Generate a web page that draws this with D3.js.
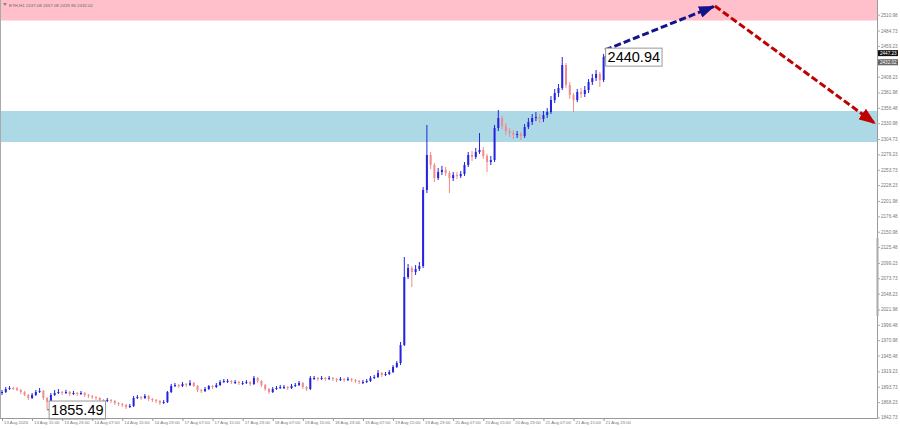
<!DOCTYPE html>
<html>
<head>
<meta charset="utf-8">
<script src="https://cdn.jsdelivr.net/npm/d3@7"></script>
<style>
  body { margin: 0; background: #fff; }
  svg { display: block; font-family: "Liberation Sans", Arial, sans-serif; }
</style>
</head>
<body>
<svg id="chart" width="900" height="429"></svg>
<script>
// ETH H1 bars
const symbolInfo = "ETH,H1  2437.08 2457.08 2419.96 2432.02";

const timeLabels = ["13 Aug 2026", "13 Aug 15:00", "13 Aug 23:00", "14 Aug 07:00", "14 Aug 15:00", "14 Aug 23:00",
    "17 Aug 07:00", "17 Aug 15:00", "17 Aug 23:00", "18 Aug 07:00", "18 Aug 15:00", "18 Aug 23:00",
    "19 Aug 07:00", "19 Aug 15:00", "19 Aug 23:00", "20 Aug 07:00", "20 Aug 15:00", "20 Aug 23:00",
    "21 Aug 07:00", "21 Aug 15:00", "21 Aug 23:00"];
const labelBars = [0, 8, 16, 24, 32, 40, 48, 56, 64, 72, 80, 88, 96, 104, 112, 120, 128, 136, 144, 152, 160];

const priceTicks = [2510.98, 2484.73, 2459.23, 2433.73, 2408.23, 2381.98, 2356.48, 2330.98, 2304.73, 2279.23,
    2253.73, 2228.23, 2201.98, 2176.48, 2150.98, 2125.48, 2099.23, 2073.73, 2048.23, 2021.98, 1996.48,
    1970.98, 1945.48, 1919.23, 1893.73, 1868.23, 1842.73];

const firstOpen = 1883.4;
const closes = [
    1885.0, 1890.0, 1891.7, 1891.2, 1888.4, 1885.0, 1880.1, 1875.1, 1880.1, 1885.0,
    1886.7, 1875.1, 1868.4, 1880.1, 1883.4, 1885.0, 1883.4, 1885.0, 1881.7, 1883.4,
    1881.7, 1883.4, 1880.1, 1878.4, 1876.7, 1875.1, 1871.8, 1870.1, 1871.8, 1870.1,
    1866.8, 1865.1, 1863.5, 1860.1, 1861.8, 1875.1, 1876.7, 1875.1, 1878.4, 1873.4,
    1871.8, 1870.1, 1866.8, 1868.4, 1885.0, 1895.0, 1896.6, 1895.0, 1898.3, 1896.6,
    1900.0, 1895.0, 1888.4, 1886.7, 1890.0, 1895.0, 1893.3, 1896.6, 1901.6, 1903.3,
    1903.3, 1901.6, 1901.6, 1900.0, 1900.0, 1901.6, 1898.3, 1908.3, 1903.3, 1896.6,
    1890.0, 1885.0, 1890.0, 1891.7, 1893.3, 1893.3, 1891.7, 1895.0, 1896.6, 1900.0,
    1893.3, 1890.0, 1908.3, 1908.3, 1906.6, 1908.3, 1906.6, 1908.3, 1906.6, 1904.9,
    1906.6, 1904.9, 1906.6, 1904.9, 1903.3, 1901.6, 1901.6, 1903.3, 1908.3, 1909.9,
    1916.6, 1913.2, 1914.9, 1918.2, 1926.5, 1933.1, 1963.0, 2075.8, 2090.7, 2084.1,
    2089.1, 2094.0, 2220.1, 2278.2, 2261.6, 2240.0, 2250.0, 2253.3, 2248.3, 2240.0,
    2245.0, 2243.3, 2246.7, 2261.6, 2278.2, 2274.9, 2283.2, 2286.5, 2276.5, 2266.6,
    2269.9, 2323.0, 2339.6, 2326.3, 2318.0, 2314.7, 2311.4, 2313.0, 2309.7, 2324.6,
    2332.9, 2339.6, 2341.2, 2337.9, 2344.5, 2349.5, 2369.4, 2381.0, 2389.3, 2427.5,
    2394.3, 2377.7, 2369.4, 2382.7, 2379.4, 2386.0, 2399.3, 2405.9, 2412.6, 2402.6,
    2440.94
];
const highs = [
    1888.4, 1893.3, 1895.0, 1894.0, 1893.3, 1890.0, 1886.7, 1881.7, 1883.4, 1888.4,
    1891.7, 1888.4, 1876.7, 1883.4, 1888.4, 1890.0, 1886.7, 1888.4, 1886.7, 1886.7,
    1885.0, 1886.7, 1885.0, 1881.7, 1880.1, 1878.4, 1876.7, 1873.4, 1875.1, 1873.4,
    1871.8, 1868.4, 1866.8, 1865.1, 1865.1, 1878.4, 1880.1, 1878.4, 1881.7, 1880.1,
    1875.1, 1873.4, 1871.8, 1871.8, 1886.7, 1898.3, 1900.0, 1898.3, 1901.6, 1900.0,
    1904.9, 1901.6, 1896.6, 1890.0, 1893.3, 1896.6, 1896.6, 1900.0, 1904.9, 1906.6,
    1906.6, 1904.9, 1904.9, 1903.3, 1903.3, 1904.9, 1903.3, 1911.6, 1909.9, 1904.9,
    1898.3, 1891.7, 1893.3, 1895.0, 1896.6, 1896.6, 1895.0, 1898.3, 1900.0, 1903.3,
    1901.6, 1895.0, 1911.6, 1911.6, 1909.9, 1911.6, 1909.9, 1911.6, 1909.9, 1908.3,
    1909.9, 1908.3, 1909.9, 1908.3, 1906.6, 1904.9, 1904.9, 1906.6, 1911.6, 1913.2,
    1921.5, 1918.2, 1918.2, 1921.5, 1929.8, 1936.5, 1968.0, 2109.0, 2097.4, 2094.0,
    2095.7, 2100.7, 2225.1, 2328.0, 2283.2, 2264.9, 2256.6, 2260.0, 2258.3, 2251.6,
    2250.0, 2250.0, 2251.6, 2266.6, 2283.2, 2284.9, 2289.9, 2314.7, 2291.5, 2279.9,
    2276.5, 2328.0, 2352.8, 2343.0, 2331.3, 2323.0, 2319.7, 2318.0, 2316.4, 2329.6,
    2339.6, 2346.2, 2349.5, 2346.2, 2351.2, 2356.2, 2376.1, 2387.7, 2396.0, 2440.8,
    2430.9, 2399.3, 2381.0, 2387.7, 2389.3, 2392.7, 2404.2, 2412.6, 2419.2, 2416.0,
    2445.9
];
const lows = [
    1880.1, 1883.4, 1888.4, 1888.4, 1886.7, 1881.7, 1878.4, 1871.8, 1873.4, 1878.4,
    1883.4, 1871.8, 1855.5, 1866.8, 1878.4, 1881.7, 1880.1, 1881.7, 1878.4, 1880.1,
    1878.4, 1880.1, 1876.7, 1875.1, 1873.4, 1871.8, 1868.4, 1866.8, 1868.4, 1866.8,
    1863.5, 1861.8, 1860.1, 1856.8, 1858.4, 1860.1, 1873.4, 1871.8, 1873.4, 1870.1,
    1868.4, 1866.8, 1863.5, 1865.1, 1866.8, 1883.4, 1893.3, 1891.7, 1893.3, 1893.3,
    1895.0, 1893.3, 1885.0, 1883.4, 1885.0, 1888.4, 1890.0, 1891.7, 1895.0, 1900.0,
    1900.0, 1898.3, 1898.3, 1896.6, 1896.6, 1898.3, 1895.0, 1896.6, 1900.0, 1893.3,
    1886.7, 1881.7, 1883.4, 1888.4, 1890.0, 1890.0, 1888.4, 1890.0, 1893.3, 1895.0,
    1890.0, 1886.7, 1888.4, 1904.9, 1903.3, 1904.9, 1903.3, 1904.9, 1903.3, 1901.6,
    1903.3, 1901.6, 1903.3, 1901.6, 1900.0, 1898.3, 1898.3, 1900.0, 1901.6, 1906.6,
    1908.3, 1909.9, 1911.6, 1913.2, 1916.6, 1924.8, 1929.8, 1961.3, 2072.5, 2059.2,
    2079.1, 2085.8, 2090.7, 2215.1, 2255.0, 2233.4, 2236.7, 2245.0, 2243.3, 2215.1,
    2235.0, 2238.4, 2240.0, 2243.3, 2258.3, 2268.2, 2271.6, 2279.9, 2271.6, 2250.0,
    2261.6, 2266.6, 2318.0, 2321.3, 2311.4, 2308.1, 2304.8, 2306.4, 2303.1, 2306.4,
    2321.3, 2328.0, 2334.6, 2331.3, 2333.0, 2339.6, 2346.2, 2364.5, 2374.4, 2386.0,
    2389.3, 2371.1, 2349.5, 2366.1, 2372.8, 2374.4, 2381.0, 2394.3, 2401.0, 2391.0,
    2399.3
];

// zones and forecast path, in [bar, price]
const resistanceZone = [2501.3, 2560];
const supportZone = [2299.8, 2351.2];
const forecastUp = [[160.4, 2452.4], [189.6, 2525.4]];
const forecastDown = [[189.6, 2525.4], [232.4, 2329.6]];
const highLabel = { bar: 160, price: 2440.94 };
const lowLabel = { bar: 12, price: 1855.49 };
const quoteMarks = [2447.23, 2432.02];
const axisMark = [2011.1, 2140.5];

const plotRight = 877, plotBottom = 418;

const svg = d3.select("#chart");

const x = d3.scaleLinear().domain([0, 160]).range([2, 603.6]);
const y = d3.scaleLinear().domain([1842.73, 2510.98]).range([417.5, 14.7]);

const bars = closes.map((c, i) => ({
    i: i,
    o: i === 0 ? firstOpen : closes[i - 1],
    h: highs[i],
    l: lows[i],
    c: c
}));

const defs = svg.append("defs");
defs.append("clipPath")
    .attr("id", "plot-clip")
    .append("rect")
    .attr("x", 0).attr("y", 0)
    .attr("width", plotRight).attr("height", plotBottom);

const plot = svg.append("g").attr("clip-path", "url(#plot-clip)");

// zones
plot.append("rect")
    .attr("x", 0).attr("width", plotRight)
    .attr("y", y(resistanceZone[1]))
    .attr("height", y(resistanceZone[0]) - y(resistanceZone[1]))
    .attr("fill", "#ffc0cb");

plot.append("rect")
    .attr("x", 0).attr("width", plotRight)
    .attr("y", y(supportZone[1]))
    .attr("height", y(supportZone[0]) - y(supportZone[1]))
    .attr("fill", "#add8e6");

// candles
const upColor = "#2323e0", downColor = "#f28b8b";

plot.selectAll(".wick")
    .data(bars)
    .enter()
    .append("line")
    .attr("class", "wick")
    .attr("x1", d => x(d.i)).attr("x2", d => x(d.i))
    .attr("y1", d => y(d.h)).attr("y2", d => y(d.l))
    .attr("stroke", d => d.c >= d.o ? upColor : downColor)
    .attr("stroke-width", 1);

plot.selectAll(".body")
    .data(bars)
    .enter()
    .append("rect")
    .attr("class", "body")
    .attr("x", d => x(d.i) - 1)
    .attr("width", 2)
    .attr("y", d => y(Math.max(d.o, d.c)))
    .attr("height", d => Math.max(1, Math.abs(y(d.o) - y(d.c))))
    .attr("fill", d => d.c >= d.o ? upColor : downColor);

// forecast arrows
defs.append("marker")
    .attr("id", "head-blue")
    .attr("markerUnits", "userSpaceOnUse")
    .attr("markerWidth", 16).attr("markerHeight", 12)
    .attr("refX", 16).attr("refY", 6)
    .attr("orient", "auto")
    .append("path").attr("d", "M0,0 L16,6 L0,12 Z").attr("fill", "#14148a");

defs.append("marker")
    .attr("id", "head-red")
    .attr("markerUnits", "userSpaceOnUse")
    .attr("markerWidth", 17).attr("markerHeight", 13)
    .attr("refX", 17).attr("refY", 6.5)
    .attr("orient", "auto")
    .append("path").attr("d", "M0,0 L17,6.5 L0,13 Z").attr("fill", "#c00000");

const path = d3.line().x(d => x(d[0])).y(d => y(d[1]));

svg.append("path")
    .attr("d", path(forecastUp))
    .attr("fill", "none")
    .attr("stroke", "#14148a")
    .attr("stroke-width", 3)
    .attr("stroke-dasharray", "7,3")
    .attr("marker-end", "url(#head-blue)");

svg.append("path")
    .attr("d", path(forecastDown))
    .attr("fill", "none")
    .attr("stroke", "#c00000")
    .attr("stroke-width", 3)
    .attr("stroke-dasharray", "7,3")
    .attr("marker-end", "url(#head-red)");

// price call-outs
function callout(lbl) {
    const px = x(lbl.bar), py = y(lbl.price);
    const g = svg.append("g");
    const t = g.append("text")
        .attr("x", px + 4).attr("y", py)
        .attr("dy", "0.36em")
        .attr("font-size", "14.5px")
        .attr("fill", "#000")
        .text(lbl.price.toFixed(2));
    const bb = t.node().getBBox();
    g.insert("rect", "text")
        .attr("x", px + 2).attr("y", bb.y - 1)
        .attr("width", bb.width + 4).attr("height", bb.height + 2)
        .attr("fill", "#fff")
        .attr("stroke", "#999")
        .attr("stroke-width", 1);
    g.append("line")
        .attr("x1", px).attr("x2", px + 2)
        .attr("y1", py).attr("y2", py)
        .attr("stroke", "#666");
}
callout(highLabel);
callout(lowLabel);

// frame
svg.append("line").attr("x1", 0.5).attr("x2", 0.5).attr("y1", 0).attr("y2", plotBottom)
    .attr("stroke", "#aaa");
svg.append("line").attr("x1", 0).attr("x2", plotRight).attr("y1", plotBottom + 0.5).attr("y2", plotBottom + 0.5)
    .attr("stroke", "#999");
svg.append("line").attr("x1", plotRight + 0.5).attr("x2", plotRight + 0.5).attr("y1", 0).attr("y2", plotBottom + 1)
    .attr("stroke", "#999");

svg.append("rect")
    .attr("x", plotRight - 0.5).attr("width", 2)
    .attr("y", y(axisMark[1]))
    .attr("height", y(axisMark[0]) - y(axisMark[1]))
    .attr("fill", "#aaa");

// right price axis
const yAxis = svg.append("g")
    .attr("transform", `translate(${plotRight},0)`)
    .call(d3.axisRight(y).tickValues(priceTicks).tickSize(3).tickPadding(1).tickFormat(d3.format(".2f")));
yAxis.select(".domain").remove();
yAxis.selectAll("line").attr("stroke", "#aaa");
yAxis.selectAll("text")
    .attr("font-size", "4.6px")
    .attr("font-family", "Liberation Sans, Arial, sans-serif")
    .attr("fill", "#777");

// bid / ask boxes on the axis
const quoteFill = ["#111", "#666"];
quoteMarks.forEach((q, k) => {
    svg.append("rect")
        .attr("x", plotRight + 1).attr("y", y(q) - 3)
        .attr("width", 20).attr("height", 6)
        .attr("fill", quoteFill[k]);
    svg.append("text")
        .attr("x", plotRight + 3).attr("y", y(q))
        .attr("dy", "0.36em")
        .attr("font-size", "4.6px")
        .attr("fill", "#fff")
        .text(q.toFixed(2));
});

// bottom time axis
const xAxis = svg.append("g")
    .attr("transform", `translate(0,${plotBottom})`)
    .call(d3.axisBottom(x).tickValues(labelBars).tickSize(3).tickFormat((d, i) => timeLabels[i]));
xAxis.select(".domain").remove();
xAxis.selectAll("line").attr("stroke", "#999");
xAxis.selectAll("text")
    .attr("text-anchor", "start")
    .attr("dx", "1.5")
    .attr("y", 3)
    .attr("font-size", "4.3px")
    .attr("font-family", "Liberation Sans, Arial, sans-serif")
    .attr("fill", "#777");

// symbol line, top left
svg.append("path")
    .attr("d", "M3,3 L7,3 L5,6 Z")
    .attr("fill", "#888");
svg.append("text")
    .attr("x", 9).attr("y", 5)
    .attr("dy", "0.36em")
    .attr("font-size", "4.4px")
    .attr("fill", "#666")
    .text(symbolInfo);
</script>
</body>
</html>
